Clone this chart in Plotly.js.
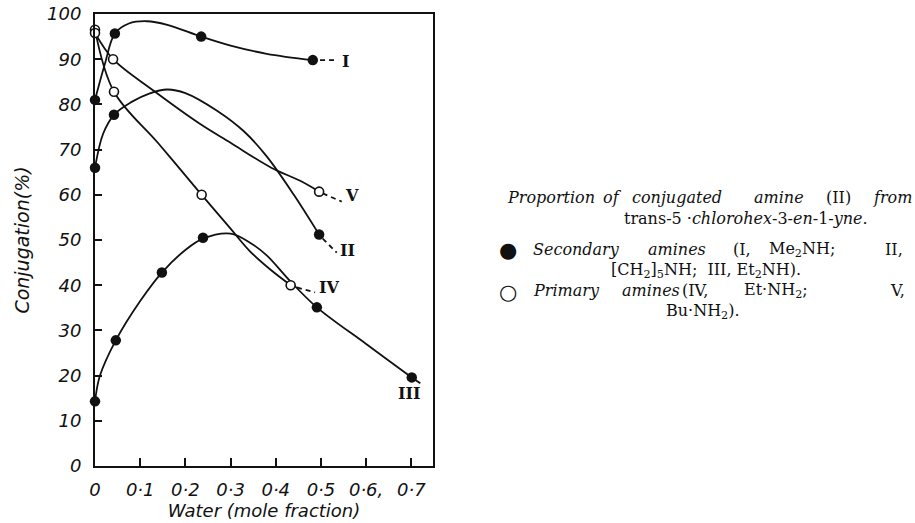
<!DOCTYPE html>
<html>
<head>
<meta charset="utf-8">
<script src="https://cdn.plot.ly/plotly-3.0.1.min.js"></script>
<style>html,body{margin:0;padding:0;background:#fff;}#chart{width:915px;height:523px;}</style>
</head>
<body>
<div id="chart"></div>
<script>
// ---- Data ----
// Measured points (markers)
const I_x   = [0, 0.044, 0.235, 0.482];
const I_y   = [81, 95.7, 95.0, 89.8];
const II_x  = [0, 0.042, 0.496];
const II_y  = [66, 77.7, 51.2];
const III_x = [0, 0.046, 0.148, 0.239, 0.491, 0.701];
const III_y = [14.3, 27.8, 42.8, 50.5, 35.1, 19.6];
const IV_x  = [0, 0.042, 0.236, 0.433];
const IV_y  = [96.5, 82.8, 60.0, 40.0];
const V_x   = [0, 0.040, 0.496];
const V_y   = [95.8, 90.0, 60.7];

// Hand-drawn smooth curves
const I_curve_x   = [0, 0.022, 0.044, 0.075, 0.115, 0.16, 0.235, 0.30, 0.38, 0.482];
const I_curve_y   = [81, 89, 95.7, 97.9, 98.4, 97.6, 95.0, 93.0, 91.2, 89.8];
const II_curve_x  = [0, 0.018, 0.042, 0.08, 0.12, 0.16, 0.20, 0.27, 0.33, 0.38, 0.44, 0.496];
const II_curve_y  = [66, 73.5, 77.7, 80.5, 82.4, 83.3, 82.5, 78.6, 74.0, 68.5, 60.0, 51.2];
const III_curve_x = [0, 0.011, 0.046, 0.10, 0.148, 0.20, 0.239, 0.30, 0.343, 0.38, 0.431, 0.491, 0.60, 0.701, 0.72];
const III_curve_y = [14.3, 20, 27.8, 36.5, 42.8, 47.8, 50.3, 51.4, 49.4, 46.6, 41.0, 35.1, 27.0, 19.6, 18.3];
const IV_curve_x  = [0, 0.042, 0.14, 0.236, 0.30, 0.343, 0.39, 0.433];
const IV_curve_y  = [96.5, 82.8, 71.4, 60.0, 52.5, 47.5, 43.3, 40.0];
const V_curve_x   = [0, 0.040, 0.13, 0.232, 0.30, 0.39, 0.454, 0.496];
const V_curve_y   = [95.8, 90.0, 83.0, 75.7, 71.5, 66.0, 63.1, 60.7];

// Dashed extrapolations towards the curve labels
const I_ext_x   = [0.498, 0.538];  const I_ext_y   = [89.8, 89.8];
const II_ext_x  = [0.504, 0.535];  const II_ext_y  = [50.3, 47.2];
const IV_ext_x  = [0.447, 0.487];  const IV_ext_y  = [39.5, 38.4];
const V_ext_x   = [0.504, 0.546];  const V_ext_y   = [60.3, 58.5];

// Curve labels
const curveLabels = ['I', 'II', 'III', 'IV', 'V'];
const labelX = [0.555, 0.558, 0.695, 0.518, 0.569];
const labelY = [89.6, 47.7, 16.1, 39.5, 59.8];

// Axis ticks
const xTickVals = [0, 0.1, 0.2, 0.3, 0.4, 0.5, 0.6, 0.7];
const xTickText = ['0', '0·1', '0·2', '0·3', '0·4', '0·5', '0·6,', '0·7'];
const yTickVals = [0, 10, 20, 30, 40, 50, 60, 70, 80, 90, 100];
const yTickText = ['0', '10', '20', '30', '40', '50', '60', '70', '80', '90', '100'];

// ---- Figure ----
const BLACK = '#111';
const traces = [];
function curve(x, y) {
  traces.push({x: x, y: y, type: 'scatter', mode: 'lines', showlegend: false, hoverinfo: 'skip',
    line: {color: BLACK, width: 1.8, shape: 'spline', smoothing: 1.0}});
}
function ext(x, y) {
  traces.push({x: x, y: y, type: 'scatter', mode: 'lines', showlegend: false, hoverinfo: 'skip',
    line: {color: BLACK, width: 1.8, dash: '5px,4px'}});
}
function pts(x, y, filled) {
  traces.push({x: x, y: y, type: 'scatter', mode: 'markers', showlegend: false, cliponaxis: false,
    marker: filled ? {color: BLACK, size: 10.5, line: {width: 0}}
                   : {color: '#fff', size: 9, line: {color: BLACK, width: 1.6}}});
}
curve(I_curve_x, I_curve_y);
curve(II_curve_x, II_curve_y);
curve(III_curve_x, III_curve_y);
curve(IV_curve_x, IV_curve_y);
curve(V_curve_x, V_curve_y);
ext(I_ext_x, I_ext_y); ext(II_ext_x, II_ext_y); ext(IV_ext_x, IV_ext_y); ext(V_ext_x, V_ext_y);
pts(I_x, I_y, true); pts(II_x, II_y, true); pts(III_x, III_y, true);
pts(IV_x, IV_y, false); pts(V_x, V_y, false);

const L = 95, R = 433, T = 14, B = 466;
const px = v => (v - L) / (R - L);
const py = v => (B - v) / (B - T);

const annotations = [];
curveLabels.forEach((t, i) => annotations.push({
  x: labelX[i], y: labelY[i], xref: 'x', yref: 'y', text: t, showarrow: false,
  font: {family: 'DejaVu Serif', size: 16, color: BLACK, weight: 'bold'}
}));

function word(x, y, text, anchor, italic) {
  annotations.push({x: px(x), y: py(y), xref: 'paper', yref: 'paper', text: text, showarrow: false,
    xanchor: anchor || 'left', yanchor: 'middle',
    font: {family: 'DejaVu Serif', size: 16, color: BLACK, style: italic ? 'italic' : 'normal'}});
}
// caption line 1
word(505, 198, 'Proportion', 'left', true);
word(601, 198, 'of', 'left', true);
word(630, 198, 'conjugated', 'left', true);
word(752, 198, 'amine', 'left', true);
word(824, 198, '(II)');
word(871, 198, 'from', 'left', true);
// line 2
word(746, 218, 'trans-5 ·<i>chlorohex</i>-3-<i>en</i>-1-<i>yne</i>.', 'center');
// secondary amines
annotations.push({x: px(508), y: py(250), xref: 'paper', yref: 'paper', text: '●', showarrow: false,
  xanchor: 'center', yanchor: 'middle', font: {family: 'DejaVu Sans', size: 21, color: BLACK}});
word(531, 249, 'Secondary', 'left', true);
word(646, 249, 'amines', 'left', true);
word(731, 249, '(I,');
word(767, 249, 'Me<sub>2</sub>NH;');
word(883, 249, 'II,');
word(706, 270, '[CH<sub>2</sub>]<sub>5</sub>NH;  III, Et<sub>2</sub>NH).', 'center');
// primary amines
annotations.push({x: px(508), y: py(292), xref: 'paper', yref: 'paper', text: '○', showarrow: false,
  xanchor: 'center', yanchor: 'middle', font: {family: 'DejaVu Sans', size: 21, color: BLACK}});
word(531, 290, 'Primary', 'left', true);
word(620, 290, 'amines', 'left', true);
word(680, 290, '(IV,');
word(742, 290, 'Et·NH<sub>2</sub>;');
word(888, 290, 'V,');
word(703, 311, 'Bu·NH<sub>2</sub>).', 'center');

const AXFONT = {family: 'DejaVu Sans', size: 18, color: BLACK, style: 'italic'};
const layout = {
  width: 915, height: 523,
  margin: {l: L, r: 915 - R, t: T, b: 523 - B, pad: 0},
  paper_bgcolor: '#fff', plot_bgcolor: '#fff',
  showlegend: false,
  font: {family: 'DejaVu Sans', color: BLACK},
  xaxis: {
    range: [0, 0.748], showgrid: false, zeroline: false,
    showline: true, linecolor: BLACK, linewidth: 2, mirror: true,
    ticks: 'inside', ticklen: 8, tickwidth: 2, tickcolor: BLACK,
    tickvals: xTickVals, ticktext: xTickText, tickfont: AXFONT, ticklabelstandoff: 6,
    title: {text: 'Water (mole fraction)', font: {family: 'DejaVu Sans', size: 18, color: BLACK, style: 'italic'}, standoff: 5}
  },
  yaxis: {
    range: [0, 100], showgrid: false, zeroline: false,
    showline: true, linecolor: BLACK, linewidth: 2, mirror: true,
    ticks: 'inside', ticklen: 7, tickwidth: 2, tickcolor: BLACK,
    tickvals: yTickVals, ticktext: yTickText, tickfont: AXFONT, ticklabelstandoff: 8,
    title: {text: 'Conjugation(%)', font: {family: 'DejaVu Sans', size: 19, color: BLACK, style: 'italic'}, standoff: 12}
  },
  annotations: annotations
};
Plotly.newPlot('chart', traces, layout, {staticPlot: true, displayModeBar: false});
</script>
</body>
</html>
